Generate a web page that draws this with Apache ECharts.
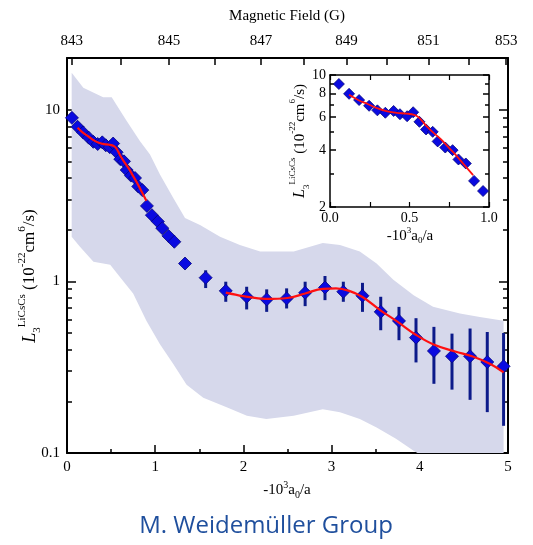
<!DOCTYPE html>
<html><head><meta charset="utf-8">
<script src="https://cdn.jsdelivr.net/npm/echarts@6/dist/echarts.min.js"></script>
<style>html,body{margin:0;padding:0;background:#fff}#c{width:533px;height:545px}</style>
</head><body><div id="c"></div>
<script>
// ---------- data ----------
// early points (shown in main plot and inset)
const earlyX = [0.056, 0.12, 0.183, 0.246, 0.298, 0.348, 0.40, 0.44, 0.485, 0.523, 0.5625, 0.604, 0.646, 0.677, 0.725, 0.771, 0.808, 0.854, 0.906, 0.9625];
const earlyY = [8.96, 7.95, 7.37, 6.87, 6.50, 6.31, 6.45, 6.20, 6.05, 6.35, 5.65, 5.15, 5.0, 4.45, 4.13, 4.0, 3.57, 3.4, 2.75, 2.43];
// further points without visible error bars (main only)
const midX = [1.03, 1.08, 1.15, 1.217, 1.338];
const midY = [2.23, 2.04, 1.84, 1.70, 1.27];
// points with error bars
const errX  = [1.572, 1.80, 2.037, 2.264, 2.49, 2.70, 2.925, 3.133, 3.35, 3.557, 3.764, 3.957, 4.16, 4.365, 4.57, 4.765, 4.95];
const errY  = [1.05, 0.88, 0.813, 0.785, 0.795, 0.858, 0.92, 0.87, 0.824, 0.664, 0.588, 0.47, 0.393, 0.366, 0.366, 0.339, 0.32];
const errLo = [0.914, 0.76, 0.686, 0.664, 0.695, 0.717, 0.777, 0.76, 0.664, 0.519, 0.454, 0.337, 0.253, 0.234, 0.204, 0.173, 0.144];
const errHi = [1.16, 0.995, 0.93, 0.898, 0.91, 0.995, 1.074, 0.995, 0.98, 0.813, 0.71, 0.61, 0.543, 0.496, 0.531, 0.507, 0.50];
// fit curves (red)
const fit1X = [0.12, 0.18, 0.24, 0.30, 0.36, 0.42, 0.48, 0.53, 0.56, 0.60, 0.65, 0.70, 0.75, 0.80, 0.85, 0.90];
const fit1Y = [7.85, 7.35, 7.0, 6.65, 6.42, 6.3, 6.25, 6.15, 5.95, 5.45, 4.95, 4.55, 4.1, 3.7, 3.3, 2.95];
const fit2X = [1.80, 2.0, 2.25, 2.5, 2.7, 2.9, 3.05, 3.2, 3.35, 3.55, 3.75, 3.95, 4.15, 4.4, 4.6, 4.8, 4.95];
const fit2Y = [0.86, 0.82, 0.79, 0.80, 0.85, 0.905, 0.91, 0.88, 0.81, 0.68, 0.58, 0.49, 0.43, 0.39, 0.365, 0.33, 0.295];
// shaded uncertainty band
const bandHiX = [0.053, 0.185, 0.41, 0.507, 0.58, 0.677, 0.828, 0.941, 1.054, 1.205, 1.338, 1.508, 1.735, 1.96, 2.19, 2.57, 2.90, 3.095, 3.32, 3.51, 3.70, 3.93, 4.15, 4.455, 4.68, 4.95];
const bandHiY = [16.4, 13.4, 11.8, 11.8, 10.3, 8.58, 6.55, 5.48, 4.19, 3.06, 2.34, 2.13, 1.82, 1.63, 1.49, 1.49, 1.67, 1.63, 1.49, 1.27, 1.02, 0.83, 0.71, 0.65, 0.62, 0.59];
const bandLoX = [0.053, 0.147, 0.30, 0.49, 0.60, 0.75, 0.90, 1.054, 1.205, 1.356, 1.545, 1.81, 2.04, 2.26, 2.57, 2.90, 3.095, 3.32, 3.51, 3.73, 3.93, 4.3, 4.95];
const bandLoY = [1.82, 1.59, 1.30, 1.25, 1.06, 0.85, 0.59, 0.43, 0.33, 0.25, 0.21, 0.185, 0.165, 0.158, 0.165, 0.18, 0.173, 0.158, 0.141, 0.121, 0.103, 0.08, 0.06];
// tick labels
const xTicks = [0, 1, 2, 3, 4, 5];
const yMajor = [0.1, 1, 10];
const yMinor = [0.2, 0.3, 0.4, 0.5, 0.6, 0.7, 0.8, 0.9, 2, 3, 4, 5, 6, 7, 8, 9];
const fieldVals = [843, 844, 845, 846, 847, 848, 849, 850, 851, 852, 853];
const fieldPos  = [0.053, 0.61, 1.157, 1.676, 2.2, 2.68, 3.17, 3.63, 4.10, 4.55, 4.98];
const fieldLabeled = [843, 845, 847, 849, 851, 853];
const insetYMajor = [2, 4, 6, 8, 10];
const insetYMinor = [3, 5, 7, 9];
const insetXTicks = [0.0, 0.5, 1.0];

// ---------- chart ----------
const serif = 'Liberation Serif';
const chart = echarts.init(document.getElementById('c'), null, {renderer: 'canvas'});
const fmtNum = v => String(+(+v).toPrecision(3));
const fieldLabelPos = fieldLabeled.map(f => fieldPos[fieldVals.indexOf(f)]);
const fieldFmt = v => { const i = fieldPos.findIndex(p => Math.abs(p - v) < 1e-6); return i >= 0 ? String(fieldVals[i]) : ''; };

function yAx(grid, pos, ticks, len, labels, lineW, min, max, lbl) {
  return {
    type: 'log', logBase: 10, gridIndex: grid, position: pos, min: min, max: max,
    splitLine: {show: false},
    axisLine: {show: labels !== null, lineStyle: {color: '#000', width: lineW}},
    axisTick: {show: true, inside: true, length: len, customValues: ticks, lineStyle: {color: '#000', width: 1.5}},
    axisLabel: labels ? Object.assign({show: true, customValues: labels, formatter: fmtNum, fontFamily: serif, color: '#000'}, lbl) : {show: false}
  };
}

const ax = {fontFamily: serif, color: '#000'};
const option = {
  backgroundColor: '#fff',
  animation: false,
  grid: [
    {left: 67, top: 58, width: 441, height: 395},
    {left: 330, top: 75, width: 159, height: 132}
  ],
  xAxis: [
    {type: 'value', gridIndex: 0, position: 'bottom', min: 0, max: 5, interval: 1,
      splitLine: {show: false},
      axisLine: {lineStyle: {color: '#000', width: 2}},
      axisTick: {inside: true, length: 8, lineStyle: {color: '#000', width: 1.5}},
      minorTick: {show: true, splitNumber: 2, length: 4, lineStyle: {color: '#000', width: 1.5}},
      axisLabel: Object.assign({customValues: xTicks, fontSize: 15, margin: 7}, ax)},
    {type: 'value', gridIndex: 0, position: 'top', min: 0, max: 5,
      splitLine: {show: false},
      axisLine: {lineStyle: {color: '#000', width: 2}},
      axisTick: {inside: true, length: 7, customValues: fieldPos, lineStyle: {color: '#000', width: 1.5}},
      axisLabel: Object.assign({customValues: fieldLabelPos, formatter: fieldFmt, fontSize: 15, margin: 9}, ax)},
    {type: 'value', gridIndex: 1, position: 'bottom', min: 0, max: 1, interval: 0.5,
      splitLine: {show: false},
      axisLine: {lineStyle: {color: '#000', width: 1.5}},
      axisTick: {inside: true, length: 5, lineStyle: {color: '#000', width: 1.2}},
      minorTick: {show: true, splitNumber: 2, length: 5, lineStyle: {color: '#000', width: 1.2}},
      axisLabel: Object.assign({customValues: insetXTicks, formatter: v => (+v).toFixed(1), fontSize: 14, margin: 4}, ax)},
    {type: 'value', gridIndex: 1, position: 'top', min: 0, max: 1, interval: 0.5,
      splitLine: {show: false},
      axisLine: {lineStyle: {color: '#000', width: 1.5}},
      axisTick: {inside: true, length: 5, lineStyle: {color: '#000', width: 1.2}},
      minorTick: {show: true, splitNumber: 2, length: 5, lineStyle: {color: '#000', width: 1.2}},
      axisLabel: {show: false}}
  ],
  yAxis: [
    yAx(0, 'left', yMajor, 9, yMajor, 2, 0.1, 20, {fontSize: 15, margin: 7}),
    yAx(0, 'left', yMinor, 5, null, 2, 0.1, 20),
    yAx(0, 'right', yMajor, 9, false, 2, 0.1, 20),
    yAx(0, 'right', yMinor, 5, null, 2, 0.1, 20),
    yAx(1, 'left', insetYMajor, 6, insetYMajor, 1.5, 2, 10, {fontSize: 14, margin: 4}),
    yAx(1, 'left', insetYMinor, 4, null, 1.5, 2, 10),
    yAx(1, 'right', insetYMajor, 6, false, 1.5, 2, 10),
    yAx(1, 'right', insetYMinor, 4, null, 1.5, 2, 10)
  ],
  series: [
    {type: 'custom', xAxisIndex: 0, yAxisIndex: 0, z: 1, clip: true, silent: true,
      data: [[bandHiX[0], bandHiY[0]]],
      renderItem: (params, api) => {
        const pts = [];
        bandHiX.forEach((x, i) => pts.push(api.coord([x, bandHiY[i]])));
        for (let i = bandLoX.length - 1; i >= 0; i--) pts.push(api.coord([bandLoX[i], bandLoY[i]]));
        const cs = params.coordSys;
        return {type: 'polygon', shape: {points: pts},
          clipPath: {type: 'rect', shape: {x: cs.x, y: cs.y, width: cs.width, height: cs.height}},
          style: {fill: '#d6d8eb', stroke: null}};
      }},
    {type: 'custom', xAxisIndex: 0, yAxisIndex: 0, z: 3, silent: true,
      data: errX.map((x, i) => [x, errLo[i], errHi[i]]),
      encode: {x: 0, y: [1, 2]},
      renderItem: (params, api) => {
        const a = api.coord([api.value(0), api.value(1)]);
        const b = api.coord([api.value(0), api.value(2)]);
        return {type: 'line', shape: {x1: a[0], y1: a[1], x2: b[0], y2: b[1]},
          style: {stroke: '#0c1a8a', lineWidth: 3}};
      }},
    {type: 'scatter', xAxisIndex: 0, yAxisIndex: 0, z: 4, symbol: 'diamond', symbolSize: 13,
      itemStyle: {color: '#0a0ae0', borderColor: '#06067a', borderWidth: 0.8, opacity: 1},
      data: earlyX.map((x, i) => [x, earlyY[i]])
        .concat(midX.map((x, i) => [x, midY[i]]))
        .concat(errX.map((x, i) => [x, errY[i]]))},
    {type: 'line', xAxisIndex: 0, yAxisIndex: 0, z: 5, smooth: 0.4, showSymbol: false,
      lineStyle: {color: '#ff1010', width: 2.2},
      data: fit1X.map((x, i) => [x, fit1Y[i]])},
    {type: 'line', xAxisIndex: 0, yAxisIndex: 0, z: 5, smooth: 0.4, showSymbol: false,
      lineStyle: {color: '#ff1010', width: 2.2},
      data: fit2X.map((x, i) => [x, fit2Y[i]])},
    {type: 'scatter', xAxisIndex: 2, yAxisIndex: 4, z: 4, symbol: 'diamond', symbolSize: 11,
      itemStyle: {color: '#0a0ae0', borderColor: '#06067a', borderWidth: 0.8, opacity: 1},
      data: earlyX.map((x, i) => [x, earlyY[i]])},
    {type: 'line', xAxisIndex: 2, yAxisIndex: 4, z: 5, smooth: 0.4, showSymbol: false,
      lineStyle: {color: '#ff1010', width: 1.8},
      data: fit1X.map((x, i) => [x, fit1Y[i]])}
  ],
  graphic: [
    {type: 'text', x: 287, y: 16, z: 10, style: {text: 'Magnetic Field (G)', font: '15px ' + serif, fill: '#000', align: 'center', verticalAlign: 'middle'}},
    {type: 'text', x: 287, y: 490, z: 10, style: {text: '-10{sup|3}a{sub|0}/a', font: '15px ' + serif, fill: '#000', align: 'center', verticalAlign: 'middle',
      rich: {sup: {fontSize: 10, fontFamily: serif, verticalAlign: 'top', lineHeight: 20}, sub: {fontSize: 10, fontFamily: serif, verticalAlign: 'bottom', lineHeight: 20}}}},
    {type: 'text', x: 30, y: 276, rotation: Math.PI / 2, z: 10, style: {
      text: '{i|L}{sub|3}{sup|LiCsCs} (10{sup|-22}cm{sup|6}/s)', font: '17px ' + serif, fill: '#000', align: 'center', verticalAlign: 'middle',
      rich: {i: {fontStyle: 'italic', fontSize: 18, fontFamily: serif, lineHeight: 26},
        sup: {fontSize: 11, fontFamily: serif, verticalAlign: 'top', lineHeight: 26},
        sub: {fontSize: 11, fontFamily: serif, verticalAlign: 'bottom', lineHeight: 26}}}},
    {type: 'text', x: 410, y: 236, z: 10, style: {text: '-10{sup|3}a{sub|0}/a', font: '15px ' + serif, fill: '#000', align: 'center', verticalAlign: 'middle',
      rich: {sup: {fontSize: 9, fontFamily: serif, verticalAlign: 'top', lineHeight: 19}, sub: {fontSize: 9, fontFamily: serif, verticalAlign: 'bottom', lineHeight: 19}}}},
    {type: 'text', x: 300, y: 141, rotation: Math.PI / 2, z: 10, style: {
      text: '{i|L}{sub|3}{sup|LiCsCs} (10{sup|-22}cm{sup|6}/s)', font: '15px ' + serif, fill: '#000', align: 'center', verticalAlign: 'middle',
      rich: {i: {fontStyle: 'italic', fontSize: 16, fontFamily: serif, lineHeight: 23},
        sup: {fontSize: 9, fontFamily: serif, verticalAlign: 'top', lineHeight: 23},
        sub: {fontSize: 9, fontFamily: serif, verticalAlign: 'bottom', lineHeight: 23}}}},
    {type: 'text', x: 266, y: 526, z: 10, style: {text: 'M. Weidemüller Group', font: '24px "Open Sans"', fill: '#1f4f9d', align: 'center', verticalAlign: 'middle'}}
  ]
};
chart.setOption(option);
</script>
</body></html>
